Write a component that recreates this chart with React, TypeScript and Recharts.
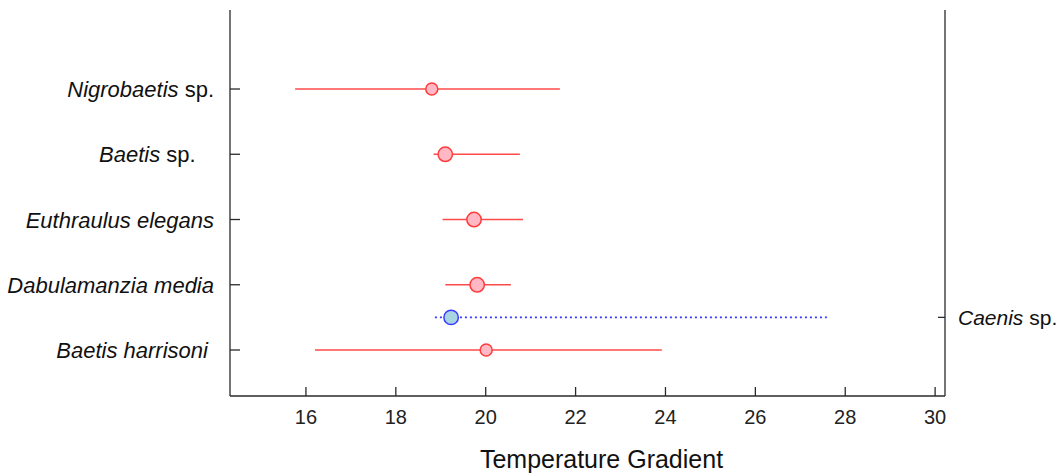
import React from "react";
import { ScatterChart, Scatter, XAxis, YAxis, ZAxis, ErrorBar } from "recharts";

// ---- data ----
const speciesLabels = ["Nigrobaetis sp.", "Baetis sp.   ", "Euthraulus elegans", "Dabulamanzia media", "Baetis harrisoni "];
const speciesRows = [5, 4, 3, 2, 1];
const meanTemp = [18.8, 19.1, 19.74, 19.81, 20.01];
const lowTemp = [15.76, 18.84, 19.04, 19.1, 16.2];
const highTemp = [21.65, 20.76, 20.83, 20.56, 23.92];
const pointWeight = [1, 2, 2, 2, 1];

const caenisLabels = ["Caenis sp."];
const caenisRows = [1.5];
const caenisMean = [19.23];
const caenisLow = [18.87];
const caenisHigh = [27.59];
const caenisWeight = [2];

const xTicks = [16, 18, 20, 22, 24, 26, 28, 30];
const xTitle = "Temperature Gradient";

const redData = meanTemp.map((m, i) => ({
  x: m,
  y: speciesRows[i],
  w: pointWeight[i],
  err: [m - lowTemp[i], highTemp[i] - m],
}));
const blueData = caenisMean.map((m, i) => ({
  x: m,
  y: caenisRows[i],
  w: caenisWeight[i],
  err: [m - caenisLow[i], caenisHigh[i] - m],
}));

const FONT = "'Liberation Sans', Arial, sans-serif";
const AXIS = "#2a2a2a";

const renderLabel = (label: string) => {
  const m = label.match(/^(.*?)( sp\.)(\s*)$/);
  if (m) {
    return (
      <>
        <tspan fontStyle="italic">{m[1]}</tspan>
        <tspan>{m[2] + m[3]}</tspan>
      </>
    );
  }
  return <tspan fontStyle="italic">{label}</tspan>;
};

const BottomTick = (props: any) => {
  const { x, y, payload } = props;
  return (
    <g>
      <line x1={x} x2={x} y1={y} y2={y - 9} stroke={AXIS} strokeWidth={1.3} />
      <text x={x} y={y + 28} textAnchor="middle" fontSize={20} fill="#222" fontFamily={FONT}>
        {payload.value}
      </text>
    </g>
  );
};

const LeftTick = (props: any) => {
  const { x, y, payload } = props;
  const idx = speciesRows.indexOf(payload.value);
  return (
    <g>
      <line x1={x} x2={x + 10} y1={y} y2={y} stroke={AXIS} strokeWidth={1.3} />
      <text
        x={x - 16}
        y={y + 8}
        textAnchor="end"
        fontSize={22}
        fill="#111"
        fontFamily={FONT}
        style={{ whiteSpace: "pre" }}
      >
        {idx >= 0 ? renderLabel(speciesLabels[idx]) : ""}
      </text>
    </g>
  );
};

const RightTick = (props: any) => {
  const { x, y, payload } = props;
  const idx = caenisRows.indexOf(payload.value);
  return (
    <g>
      <line x1={x} x2={x - 7} y1={y} y2={y} stroke={AXIS} strokeWidth={1.3} />
      <text x={x + 13} y={y + 8} textAnchor="start" fontSize={21} fill="#111" fontFamily={FONT}>
        {idx >= 0 ? renderLabel(caenisLabels[idx]) : ""}
      </text>
    </g>
  );
};

export default function App() {
  return (
    <div style={{ position: "absolute", left: 0, top: 0, background: "#fff" }}>
      <ScatterChart width={1059} height={473} margin={{ top: 10, right: 0, bottom: 0, left: 0 }}>
        <XAxis
          type="number"
          dataKey="x"
          domain={[14.31, 30.22]}
          allowDataOverflow
          ticks={xTicks}
          interval={0}
          height={77}
          tickSize={0}
          tickMargin={0}
          tickLine={false}
          tick={<BottomTick />}
          axisLine={{ stroke: AXIS, strokeWidth: 1.3 }}
          label={{
            content: (p: any) => {
              const vb = p.viewBox || { x: 230, y: 396, width: 715 };
              return (
                <text
                  x={vb.x + vb.width / 2 + 14}
                  y={vb.y + 72}
                  textAnchor="middle"
                  fontSize={25}
                  fill="#111"
                  fontFamily={FONT}
                >
                  {xTitle}
                </text>
              );
            },
          }}
        />
        <YAxis
          yAxisId="left"
          type="number"
          dataKey="y"
          domain={[0.295, 6.211]}
          allowDataOverflow
          ticks={speciesRows}
          interval={0}
          width={230}
          tickSize={0}
          tickMargin={0}
          tickLine={false}
          tick={<LeftTick />}
          axisLine={{ stroke: AXIS, strokeWidth: 1.3 }}
        />
        <YAxis
          yAxisId="right"
          orientation="right"
          type="number"
          dataKey="y"
          domain={[0.295, 6.211]}
          allowDataOverflow
          ticks={caenisRows}
          interval={0}
          width={114}
          tickSize={0}
          tickMargin={0}
          tickLine={false}
          tick={<RightTick />}
          axisLine={{ stroke: AXIS, strokeWidth: 1.3 }}
        />
        <ZAxis dataKey="w" domain={[1, 2]} range={[113, 163]} />
        <Scatter
          yAxisId="left"
          data={redData}
          shape="circle"
          fill="#ffb8c4"
          stroke="#ff3c3c"
          strokeWidth={1.5}
          isAnimationActive={false}
        >
          <ErrorBar dataKey="err" direction="x" width={0} stroke="#ff4a4a" strokeWidth={1.6} />
        </Scatter>
        <Scatter
          yAxisId="right"
          data={blueData}
          shape="circle"
          fill="#a9d5e3"
          stroke="#3a3aff"
          strokeWidth={1.5}
          isAnimationActive={false}
        >
          <ErrorBar
            dataKey="err"
            direction="x"
            width={0}
            stroke="#3a3aff"
            strokeWidth={1.6}
            strokeDasharray="2 3"
          />
        </Scatter>
      </ScatterChart>
    </div>
  );
}
